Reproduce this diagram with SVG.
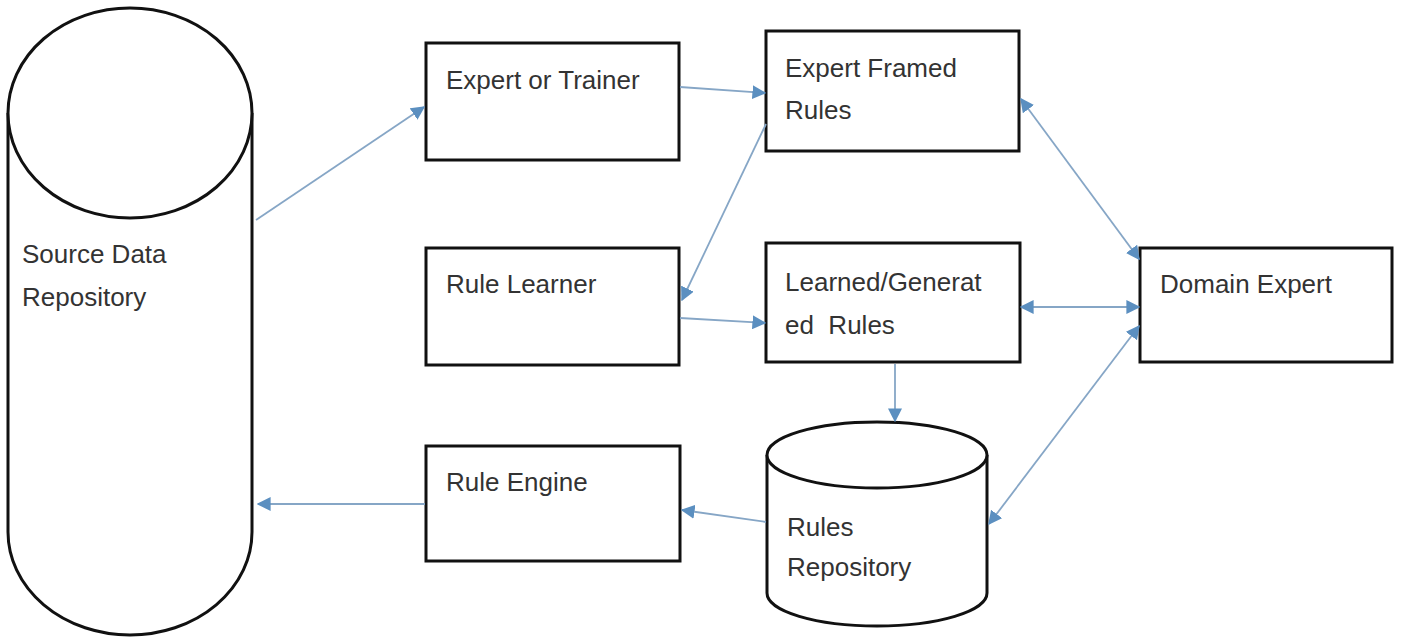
<svg xmlns="http://www.w3.org/2000/svg" width="1401" height="640" viewBox="0 0 1401 640">
<style>
.box{fill:#fff;stroke:#111;stroke-width:3}
.cyl{fill:#fff;stroke:#111;stroke-width:3}
.t{font-family:"Liberation Sans",Arial,sans-serif;font-size:26px;fill:#333}
.c{fill:none;stroke:#86a6c6;stroke-width:1.8}
</style>
<defs>
<marker id="ah" viewBox="0 0 10 10" refX="9" refY="5" markerWidth="14" markerHeight="14" markerUnits="userSpaceOnUse" orient="auto-start-reverse">
<path d="M0,0 L10,5 L0,10 Z" fill="#5b8fc0"/>
</marker>
</defs>
<rect width="1401" height="640" fill="#fff"/>
<g id="source-data-repository">
<path class="cyl" d="M8,113 L8,532 A122,103 0 0 0 252,532 L252,113"/>
<ellipse class="cyl" cx="130" cy="113" rx="122" ry="105"/>
<text class="t" x="22" y="263">Source Data</text>
<text class="t" x="22" y="306">Repository</text>
</g>
<g id="expert-or-trainer">
<rect class="box" x="426" y="43" width="253" height="117"/>
<text class="t" x="446" y="89">Expert or Trainer</text>
</g>
<g id="expert-framed-rules">
<rect class="box" x="766" y="31" width="253" height="120"/>
<text class="t" x="785" y="77">Expert Framed</text>
<text class="t" x="785" y="119">Rules</text>
</g>
<g id="rule-learner">
<rect class="box" x="426" y="248" width="253" height="117"/>
<text class="t" x="446" y="293">Rule Learner</text>
</g>
<g id="learned-generated-rules">
<rect class="box" x="766" y="243" width="254" height="119"/>
<text class="t" x="785" y="291">Learned/Generat</text>
<text class="t" x="785" y="334" xml:space="preserve">ed  Rules</text>
</g>
<g id="domain-expert">
<rect class="box" x="1140" y="248" width="252" height="114"/>
<text class="t" x="1160" y="293">Domain Expert</text>
</g>
<g id="rule-engine">
<rect class="box" x="426" y="446" width="254" height="115"/>
<text class="t" x="446" y="491">Rule Engine</text>
</g>
<g id="rules-repository">
<path class="cyl" d="M767,455 L767,593 A110,33 0 0 0 987,593 L987,455"/>
<ellipse class="cyl" cx="877" cy="455" rx="110" ry="33"/>
<text class="t" x="787" y="536">Rules</text>
<text class="t" x="787" y="576">Repository</text>
</g>
<g id="connectors">
<line class="c" x1="256" y1="220" x2="424" y2="107" marker-end="url(#ah)"/>
<line class="c" x1="680" y1="87" x2="765" y2="93" marker-end="url(#ah)"/>
<line class="c" x1="766" y1="124" x2="682" y2="300" marker-end="url(#ah)"/>
<line class="c" x1="680" y1="318" x2="765" y2="323" marker-end="url(#ah)"/>
<line class="c" x1="1021" y1="99" x2="1139" y2="259" marker-start="url(#ah)" marker-end="url(#ah)"/>
<line class="c" x1="1021" y1="307" x2="1139" y2="307" marker-start="url(#ah)" marker-end="url(#ah)"/>
<line class="c" x1="989" y1="524" x2="1139" y2="326" marker-start="url(#ah)" marker-end="url(#ah)"/>
<line class="c" x1="895" y1="364" x2="895" y2="421" marker-end="url(#ah)"/>
<line class="c" x1="766" y1="522" x2="682" y2="510" marker-end="url(#ah)"/>
<line class="c" x1="425" y1="504" x2="258" y2="504" marker-end="url(#ah)"/>
</g>
</svg>
